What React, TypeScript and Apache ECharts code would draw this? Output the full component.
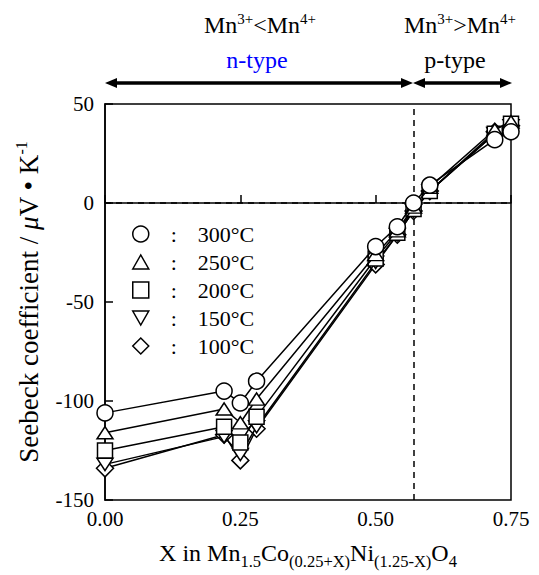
import React, { useEffect, useRef } from "react";
import * as echarts from "echarts";

const xValues = [0, 0.22, 0.25, 0.28, 0.5, 0.54, 0.57, 0.6, 0.72, 0.75];
const s300 = [-106, -95, -101, -90, -22, -12, 0, 9, 32, 36];
const s250 = [-116, -104, -111, -99, -26, -14, -2, 8, 37, 41];
const s200 = [-125, -113, -121, -108, -28, -15, -3, 6, 35, 40];
const s150 = [-132, -118, -127, -113, -30, -16, -4, 6, 35, 39];
const s100 = [-134, -117, -130, -114, -31, -16, -4, 6, 36, 39];
const seriesNames = ["300°C", "250°C", "200°C", "150°C", "100°C"];
const xTicks = [0, 0.25, 0.5, 0.75];
const yTicks = [-150, -100, -50, 0, 50];
const boundaryX = 0.57;

const FONT = "'Liberation Serif', 'Times New Roman', serif";

const UP = "path://M0,14 L8,0 L16,14 Z";
const DOWN = "path://M0,0 L16,0 L8,14 Z";

export default function App() {
  const ref = useRef<HTMLDivElement>(null);
  useEffect(() => {
    if (!ref.current) return;
    const chart = echarts.init(ref.current, undefined, { renderer: "svg" });
    const defs = [
      { name: seriesNames[4], data: s100, symbol: "diamond", size: 17 },
      { name: seriesNames[3], data: s150, symbol: DOWN, size: [16, 14] },
      { name: seriesNames[2], data: s200, symbol: "rect", size: 15 },
      { name: seriesNames[1], data: s250, symbol: UP, size: [16, 14] },
      { name: seriesNames[0], data: s300, symbol: "circle", size: 16 },
    ];
    const series: any[] = defs.map((d, i) => ({
      type: "line",
      name: d.name,
      data: xValues.map((x, j) => [x, d.data[j]]),
      symbol: d.symbol,
      symbolSize: d.size,
      symbolKeepAspect: true,
      showAllSymbol: true,
      lineStyle: { color: "#000", width: 1.5 },
      itemStyle: { color: "#fff", borderColor: "#000", borderWidth: 1.5 },
      z: 3 + i,
      ...(i === 0
        ? {
            markLine: {
              silent: true,
              symbol: "none",
              label: { show: false },
              lineStyle: { color: "#000", width: 1.5, type: [6, 5] },
              data: [{ yAxis: 0 }, { xAxis: boundaryX }],
            },
          }
        : {}),
    }));
    const legendIcons: Record<string, string> = {
      "300°C": "circle",
      "250°C": UP,
      "200°C": "rect",
      "150°C": DOWN,
      "100°C": "diamond",
    };
    const supRich = {
      n: { fontFamily: FONT, fontSize: 24, fill: "#000", lineHeight: 28, verticalAlign: "middle" },
      s: { fontFamily: FONT, fontSize: 15, fill: "#000", lineHeight: 18, verticalAlign: "top" },
    };
    chart.setOption({
      animation: false,
      grid: {
        left: 105,
        right: 28,
        top: 104,
        bottom: 67,
        show: true,
        borderColor: "#000",
        borderWidth: 1.5,
      },
      xAxis: {
        type: "value",
        min: xTicks[0],
        max: xTicks[xTicks.length - 1],
        interval: 0.25,
        axisLine: { lineStyle: { color: "#000", width: 1.5 } },
        axisTick: { inside: true, length: 8, lineStyle: { color: "#000", width: 1.5 } },
        splitLine: { show: false },
        axisLabel: {
          color: "#000",
          fontFamily: FONT,
          fontSize: 21,
          margin: 8,
          formatter: (v: number) => v.toFixed(2),
        },
        name: "{n|X in Mn}{s|1.5}{n|Co}{s|(0.25+X)}{n|Ni}{s|(1.25-X)}{n|O}{s|4}",
        nameLocation: "middle",
        nameGap: 36,
        nameTextStyle: {
          rich: {
            n: { fontFamily: FONT, fontSize: 24, color: "#000", lineHeight: 34, verticalAlign: "middle" },
            s: { fontFamily: FONT, fontSize: 16.5, color: "#000", lineHeight: 16, verticalAlign: "bottom" },
          },
        },
      },
      yAxis: {
        type: "value",
        min: yTicks[0],
        max: yTicks[yTicks.length - 1],
        interval: 50,
        axisLine: { lineStyle: { color: "#000", width: 1.5 } },
        axisTick: { inside: true, length: 8, lineStyle: { color: "#000", width: 1.5 } },
        splitLine: { show: false },
        axisLabel: { color: "#000", fontFamily: FONT, fontSize: 21, margin: 11 },
        name: "{n|Seebeck coefficient / }{i|μ}{n|V • K}{s|-1}",
        nameLocation: "middle",
        nameGap: 60,
        nameTextStyle: {
          rich: {
            n: { fontFamily: FONT, fontSize: 27, color: "#000", lineHeight: 32, verticalAlign: "middle" },
            i: { fontFamily: FONT, fontSize: 27, color: "#000", fontStyle: "italic", lineHeight: 32, verticalAlign: "middle" },
            s: { fontFamily: FONT, fontSize: 16, color: "#000", lineHeight: 20, verticalAlign: "top" },
          },
        },
      },
      legend: {
        orient: "vertical",
        left: 127,
        top: 218,
        itemWidth: 16,
        itemHeight: 16,
        itemGap: 6,
        data: seriesNames.map((n) => ({ name: n, icon: legendIcons[n] })),
        itemStyle: { color: "#fff", borderColor: "#000", borderWidth: 1.5 },
        lineStyle: { width: 0 },
        formatter: (name: string) => `{c|:}{t|${name}}`,
        textStyle: {
          fontFamily: FONT,
          fontSize: 22,
          color: "#000",
          lineHeight: 18,
          rich: {
            c: { fontFamily: FONT, fontSize: 22, color: "#000", width: 40, align: "center", lineHeight: 18 },
            t: { fontFamily: FONT, fontSize: 22, color: "#000", padding: [0, 0, 0, 4], lineHeight: 18 },
          },
        },
        selectedMode: false,
      },
      graphic: [
        { type: "line", shape: { x1: 112, y1: 83, x2: 408, y2: 83 }, style: { stroke: "#000", lineWidth: 3.5 } },
        { type: "polygon", shape: { points: [[105, 83], [117, 78], [117, 88]] }, style: { fill: "#000" } },
        { type: "polygon", shape: { points: [[413, 83], [401, 78], [401, 88]] }, style: { fill: "#000" } },
        { type: "line", shape: { x1: 418, y1: 83, x2: 506, y2: 83 }, style: { stroke: "#000", lineWidth: 3.5 } },
        { type: "polygon", shape: { points: [[413, 83], [425, 78], [425, 88]] }, style: { fill: "#000" } },
        { type: "polygon", shape: { points: [[512, 83], [500, 78], [500, 88]] }, style: { fill: "#000" } },
        {
          type: "text",
          x: 260,
          y: 25,
          style: { text: "{n|Mn}{s|3+}{n|<Mn}{s|4+}", align: "center", verticalAlign: "middle", rich: supRich },
        },
        {
          type: "text",
          x: 257,
          y: 60,
          style: { text: "n-type", align: "center", verticalAlign: "middle", fontFamily: FONT, fontSize: 24, fill: "#0000ff" },
        },
        {
          type: "text",
          x: 460,
          y: 25,
          style: { text: "{n|Mn}{s|3+}{n|>Mn}{s|4+}", align: "center", verticalAlign: "middle", rich: supRich },
        },
        {
          type: "text",
          x: 455,
          y: 60,
          style: { text: "p-type", align: "center", verticalAlign: "middle", fontFamily: FONT, fontSize: 24, fill: "#000" },
        },
      ],
      series,
    });
    return () => chart.dispose();
  }, []);
  return (
    <div
      ref={ref}
      style={{ position: "fixed", left: 0, top: 0, width: 539, height: 575, background: "#fff" }}
    />
  );
}
